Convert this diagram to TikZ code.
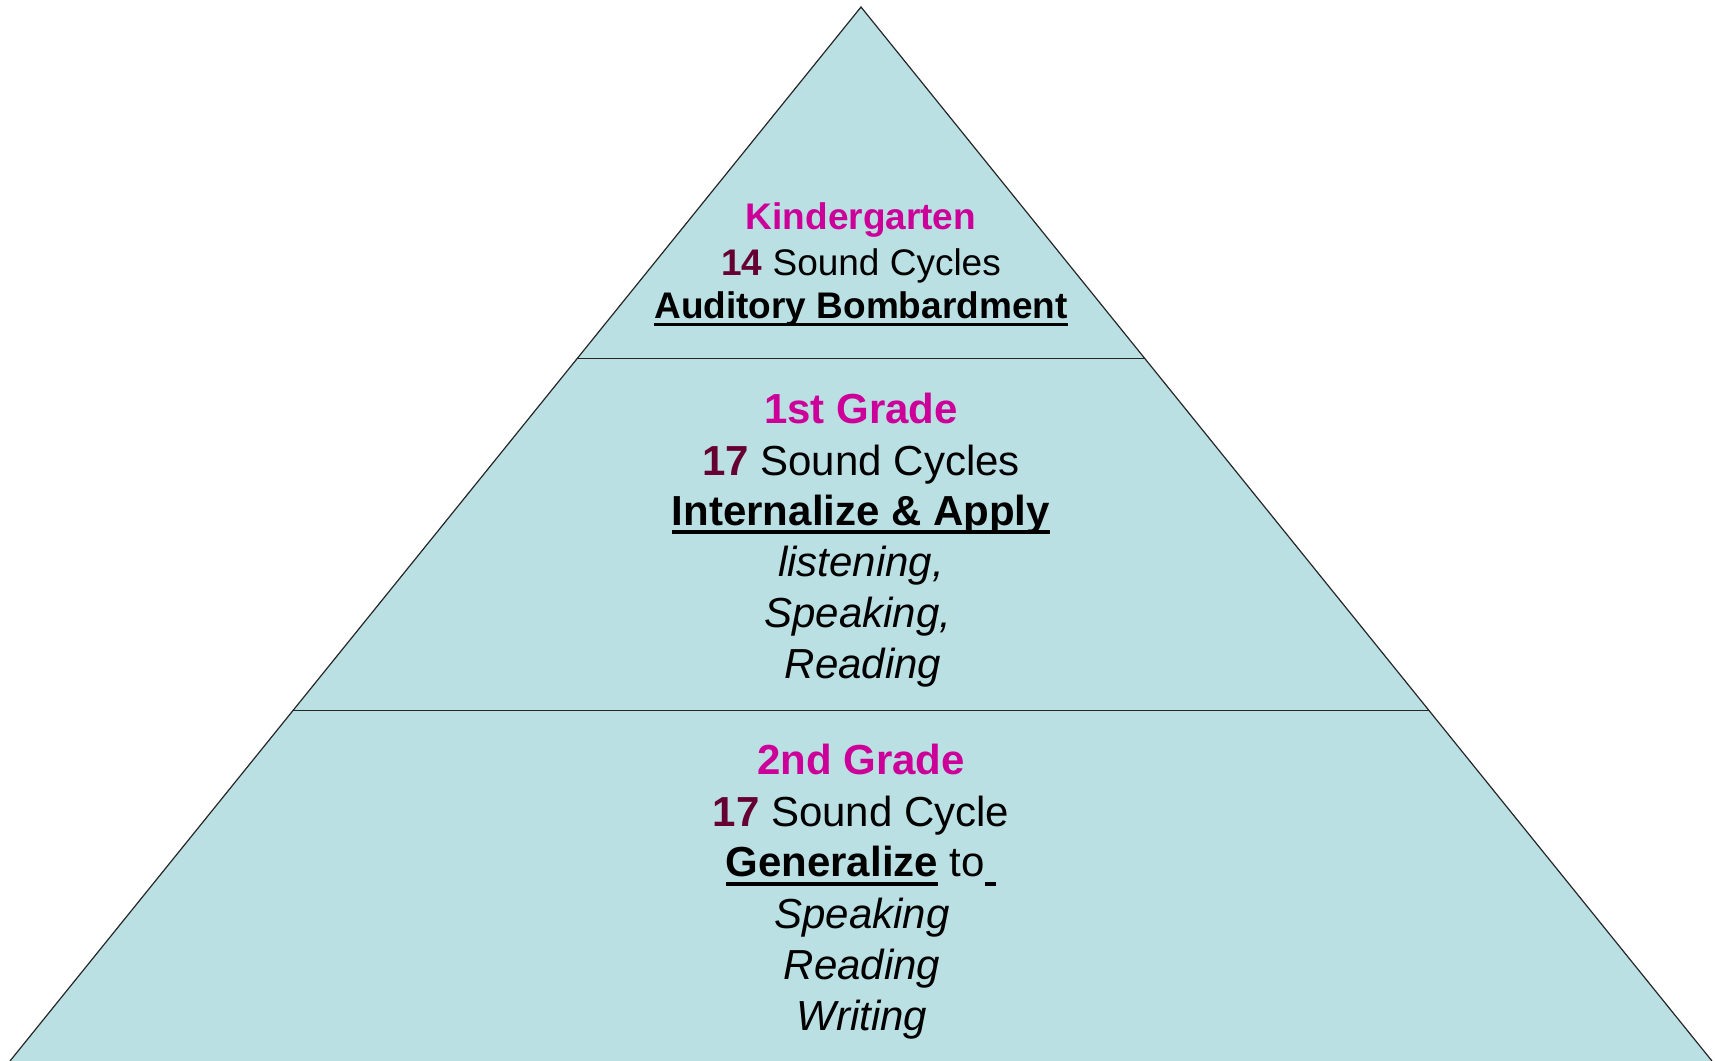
\documentclass[tikz,border=0pt]{standalone}
\usepackage{fontspec}
\setmainfont{Liberation Sans}
\usetikzlibrary{calc}
\definecolor{tierfill}{RGB}{186,224,227}
\definecolor{grademag}{RGB}{204,0,153}
\definecolor{nummaroon}{RGB}{102,0,51}
\newcommand{\myul}[1]{\setbox0\hbox{#1}\hbox{\rlap{\rule[-0.215em]{\wd0}{0.085em}}\copy0}}
\begin{document}
\begin{tikzpicture}[x=0.5pt,y=-0.5pt,
  edge/.style={draw=black!85,line width=0.6pt},
  small/.style={anchor=base,inner sep=0pt,font=\fontsize{18.5}{22}\selectfont},
  big/.style={anchor=base,inner sep=0pt,font=\fontsize{21}{25}\selectfont},
  grade/.style={text=grademag,font=\bfseries\fontsize{21}{25}\selectfont},
  ital/.style={font=\itshape\fontsize{21}{25}\selectfont}]
\useasboundingbox (0,0) rectangle (1715,1061);
\coordinate (apex) at (861,7);
\coordinate (bl) at (10,1061);
\coordinate (br) at (1712,1061);
\coordinate (l1) at ($(apex)!0.3337!(bl)$);
\coordinate (r1) at ($(apex)!0.3337!(br)$);
\coordinate (l2) at ($(apex)!0.6675!(bl)$);
\coordinate (r2) at ($(apex)!0.6675!(br)$);
\fill[tierfill] (apex) -- (bl) -- (br) -- cycle;
\draw[edge] (bl) -- (apex) -- (br);
\draw[edge] (l1) -- (r1);
\draw[edge] (l2) -- (r2);
% top tier
\node[small,text=grademag,font=\bfseries\fontsize{18.5}{22}\selectfont] (k1) at (861,229.3) {Kindergarten};
\node[small] (k2) at (861,275) {{\bfseries\color{nummaroon}14} Sound Cycles};
\node[small,font=\bfseries\fontsize{18.5}{22}\selectfont] (k3) at (861,318.3) {\myul{Auditory Bombardment}};
% middle tier
\node[big,grade] (m1) at (861,423.3) {1st Grade};
\node[big] (m2) at (861,475) {{\bfseries\color{nummaroon}17} Sound Cycles};
\node[big,font=\bfseries\fontsize{21}{25}\selectfont] (m3) at (861,525) {\myul{Internalize \& Apply}};
\node[big,ital] (m4) at (861,576) {listening,};
\node[big,ital] (m5) at (858,627) {Speaking,};
\node[big,ital] (m6) at (863,678) {Reading};
% bottom tier
\node[big,grade] (b1) at (861,774.3) {2nd Grade};
\node[big] (b2) at (861,826.7) {{\bfseries\color{nummaroon}17} Sound Cycle};
\node[big] (b3) at (861,876.7) {\myul{\bfseries Generalize} to\myul{\ }};
\node[big,ital] (b4) at (862,928) {Speaking};
\node[big,ital] (b5) at (862,979) {Reading};
\node[big,ital] (b6) at (862,1030) {Writing};
\end{tikzpicture}
\end{document}
